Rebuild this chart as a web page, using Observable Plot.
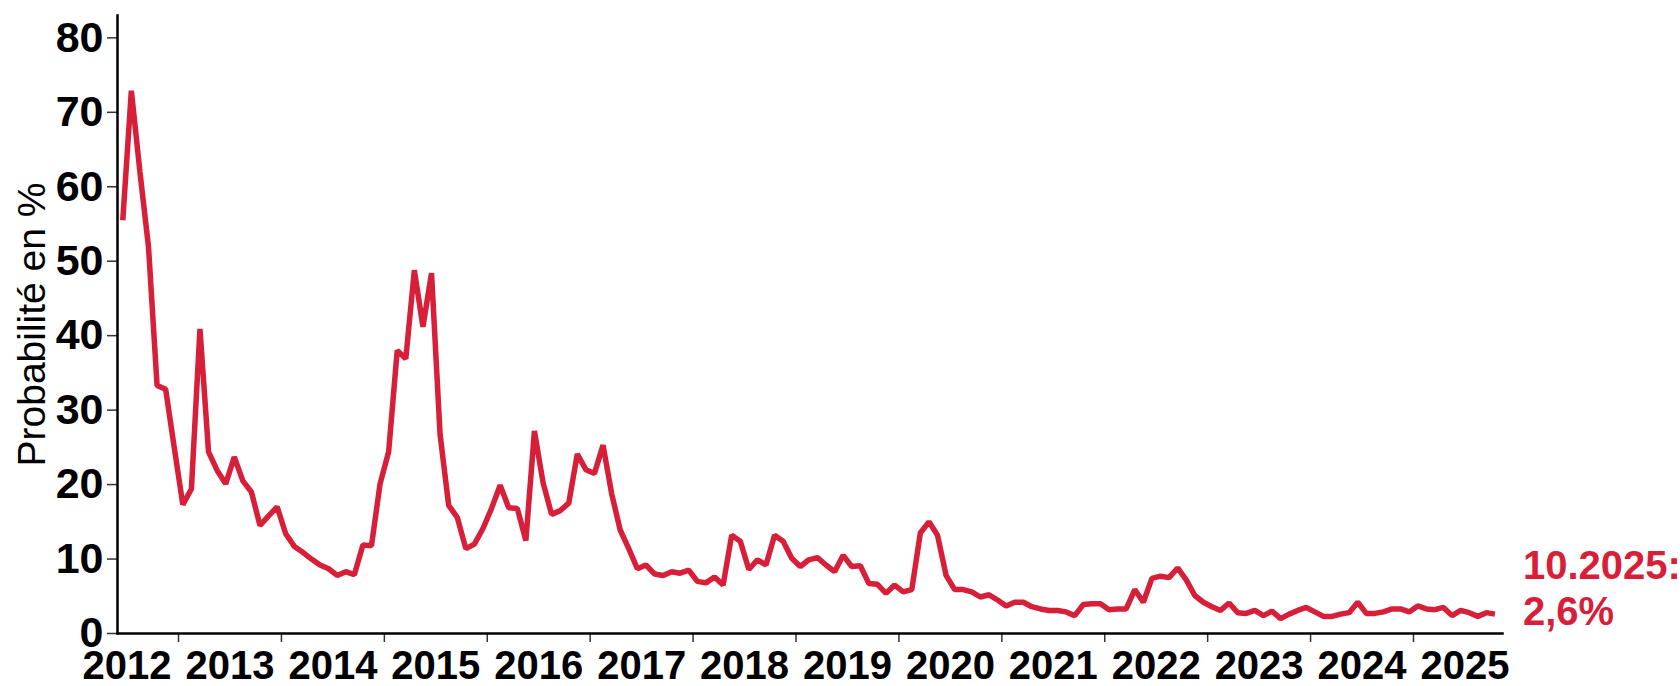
<!DOCTYPE html>
<html>
<head>
<meta charset="utf-8">
<script src="https://cdn.jsdelivr.net/npm/d3@7"></script>
<script src="https://cdn.jsdelivr.net/npm/@observablehq/plot@0.6"></script>
<style>
html, body { margin: 0; padding: 0; background: #fff; }
#chart svg { display: block; }
</style>
</head>
<body>
<div id="chart"></div>
<script>
// Monthly series, June 2012 .. October 2025 (probability in %)
const startYear = 2012;
const startMonth = 6;
const values = [
  // 2012 (Jun-Dec)
  55.5, 72.9, 62.0, 51.9, 33.3, 32.8, 25.0,
  // 2013
  17.3, 19.4, 40.9, 24.4, 21.9, 20.1, 23.7, 20.5, 19.0, 14.5, 15.8, 17.0,
  // 2014
  13.4, 11.7, 10.9, 10.0, 9.2, 8.7, 7.8, 8.3, 7.9, 11.9, 11.8, 20.1,
  // 2015
  24.4, 38.0, 36.9, 48.8, 41.2, 48.4, 26.7, 17.2, 15.6, 11.4, 12.0, 14.1,
  // 2016
  16.8, 19.9, 16.9, 16.8, 12.5, 27.2, 20.3, 16.0, 16.5, 17.5, 24.1, 22.0,
  // 2017
  21.5, 25.3, 18.8, 13.9, 11.4, 8.7, 9.2, 8.0, 7.8, 8.3, 8.1, 8.5,
  // 2018
  7.0, 6.8, 7.6, 6.5, 13.2, 12.4, 8.6, 9.9, 9.2, 13.2, 12.4, 10.1,
  // 2019
  9.0, 9.9, 10.2, 9.2, 8.3, 10.5, 9.0, 9.1, 6.7, 6.6, 5.4, 6.5,
  // 2020
  5.6, 5.9, 13.5, 15.0, 13.2, 7.8, 5.9, 5.9, 5.6, 4.9, 5.2, 4.5,
  // 2021
  3.7, 4.2, 4.2, 3.6, 3.3, 3.1, 3.1, 2.9, 2.4, 3.9, 4.0, 4.0,
  // 2022
  3.2, 3.3, 3.3, 5.9, 4.2, 7.4, 7.7, 7.5, 8.8, 7.2, 5.1, 4.2,
  // 2023
  3.6, 3.1, 4.1, 2.8, 2.7, 3.1, 2.4, 3.0, 2.0, 2.6, 3.1, 3.5,
  // 2024
  2.9, 2.3, 2.3, 2.6, 2.8, 4.2, 2.7, 2.7, 2.9, 3.3, 3.3, 2.9,
  // 2025 (Jan-Oct)
  3.7, 3.3, 3.2, 3.5, 2.4, 3.1, 2.8, 2.3, 2.8, 2.6
];
const yTicks = [0, 10, 20, 30, 40, 50, 60, 70, 80];
const yearTicks = [2013, 2014, 2015, 2016, 2017, 2018, 2019, 2020, 2021, 2022, 2023, 2024, 2025];
const yearLabels = [2012, 2013, 2014, 2015, 2016, 2017, 2018, 2019, 2020, 2021, 2022, 2023, 2024, 2025];
const yTitle = "Probabilité en %";
const xDomain = [2012.407, 2025.865];
const yDomain = [0, 83];

const red = "#d71f3a";

const data = values.map((v, i) => {
  const m = startMonth - 1 + i;
  const year = startYear + Math.floor(m / 12);
  const month = (m % 12) + 1;
  return { t: year + (month - 0.5) / 12, year, month, v };
});
const last = data[data.length - 1];
const lastLabel = d => `${d.month}.${d.year}:\n${String(d.v).replace(".", ",")}%`;

const chart = Plot.plot({
  width: 1680,
  height: 686,
  marginLeft: 117,
  marginRight: 178,
  marginTop: 15,
  marginBottom: 53,
  style: { fontFamily: "'Liberation Sans', Arial, sans-serif", background: "#fff", color: "#000", overflow: "visible" },
  x: { type: "linear", domain: xDomain },
  y: { domain: yDomain },
  marks: [
    Plot.axisY({ ticks: yTicks, tickSize: 10, tickPadding: 4, fontSize: 43, fontWeight: "bold", tickFormat: d => String(d), label: null, stroke: "#333", strokeWidth: 1.5 }),
    Plot.axisX({ ticks: yearTicks, tickSize: 9, tickFormat: () => "", label: null, stroke: "#333", strokeWidth: 1.5 }),
    Plot.axisX({ ticks: yearLabels.map(y => y + 0.5), tickSize: 0, tickPadding: 17, fontSize: 40, fontWeight: "bold", tickFormat: d => String(Math.floor(d)), label: null }),
    Plot.frame({ anchor: "left", stroke: "#000", strokeWidth: 2.5 }),
    Plot.frame({ anchor: "bottom", stroke: "#000", strokeWidth: 2.5 }),
    Plot.text([yTitle], { frameAnchor: "left", text: d => d, rotate: -90, dx: -85, textAnchor: "middle", fontSize: 39, fill: "#000" }),
    Plot.line(data, { x: "t", y: "v", stroke: red, strokeWidth: 5.5, strokeLinejoin: "miter", strokeLinecap: "butt" }),
    Plot.text([last], { x: "t", y: "v", text: lastLabel, dx: 28, dy: -26.6, textAnchor: "start", lineAnchor: "middle", lineHeight: 1.15, fill: red, fontSize: 40, fontWeight: "bold" })
  ]
});
d3.select(chart).selectAll('g[aria-label$="tick label"] text').attr("font-weight", "bold");
document.getElementById("chart").appendChild(chart);
</script>
</body>
</html>
